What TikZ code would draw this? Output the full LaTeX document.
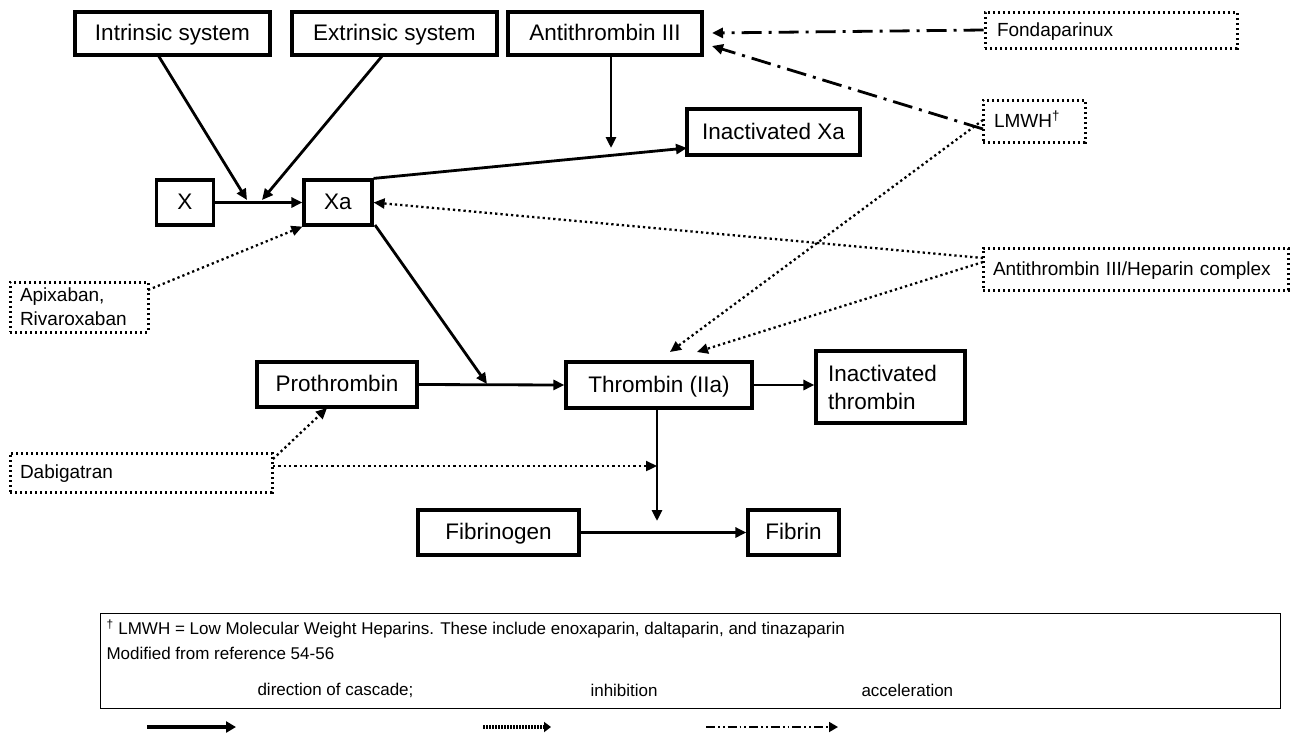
\documentclass[tikz,border=0pt]{standalone}
\usepackage{fontspec}
\setmainfont{Liberation Sans}
\usetikzlibrary{arrows.meta}
\begin{document}
\begin{tikzpicture}[x=1pt,y=-1pt,
  box/.style={draw,line width=3.2pt,inner sep=0pt,font=\fontsize{22.5}{27}\selectfont,anchor=center,text height=16.2pt,text depth=1.6pt},
  dbox/.style={draw,line width=3pt,dash pattern=on 2.4pt off 2.6pt,inner sep=0pt,font=\fontsize{19}{23}\selectfont,anchor=center,text height=13.7pt,text depth=1.4pt},
  flow/.style={line width=2.8pt,-{Triangle[length=11pt,width=10pt]}},
  inhib/.style={line width=2.3pt,dash pattern=on 2.3pt off 3pt,-{Triangle[length=11pt,width=10pt]}},
  accel/.style={line width=2.8pt,dash pattern=on 20pt off 7pt on 3pt off 7pt,-{Triangle[length=11pt,width=10pt]}},
  lt/.style={font=\fontsize{17}{20}\selectfont,anchor=west}
]
\useasboundingbox (0,0) rectangle (1294,732);
% main boxes
\node[box,minimum width=195pt,minimum height=43pt] (intr) at (172.5,33.5) {Intrinsic system};
\node[box,minimum width=205pt,minimum height=43pt] (extr) at (394.5,33.5) {Extrinsic system};
\node[box,minimum width=194pt,minimum height=43pt] (at3) at (605,33.5) {Antithrombin III};
\node[box,minimum width=173pt,minimum height=46pt] (inxa) at (773.5,132) {Inactivated Xa};
\node[box,minimum width=57pt,minimum height=45pt] (x) at (185,202.5) {X};
\node[box,minimum width=68pt,minimum height=45pt] (xa) at (338,202.5) {Xa};
\node[box,minimum width=160pt,minimum height=45pt] (proth) at (337,384.5) {Prothrombin};
\node[box,minimum width=186pt,minimum height=46pt] (thr) at (659,385) {Thrombin (IIa)};
\node[box,minimum width=149pt,minimum height=72pt,text width=125pt,align=left,text height=,text depth=] (inthr) at (890.5,387) {Inactivated\\[1pt]thrombin};
\node[box,minimum width=161pt,minimum height=45pt] (fibg) at (498.5,532.5) {Fibrinogen};
\node[box,minimum width=91pt,minimum height=45pt] (fibr) at (793.5,532.5) {Fibrin};
% dotted boxes
\node[dbox,minimum width=252pt,minimum height=36pt,text width=228pt,align=left] (fonda) at (1111,30) {Fondaparinux};
\node[dbox,minimum width=102pt,minimum height=42pt,text width=80pt,align=left] (lmwh) at (1034,121) {LMWH\textsuperscript{†}};
\node[dbox,minimum width=305pt,minimum height=42pt,text width=285pt,align=left] (athc) at (1135.5,269) {Antithrombin III/Heparin complex};
\node[dbox,minimum width=138pt,minimum height=50pt,text width=118pt,align=left,text height=,text depth=] (apix) at (79,307) {Apixaban,\\[1pt]Rivaroxaban};
\node[dbox,minimum width=262pt,minimum height=39pt,text width=242pt,align=left] (dabi) at (141,472.5) {Dabigatran};
% helper coordinates
\coordinate (j1) at (247,200);
\coordinate (j2) at (262,200);
\coordinate (j3) at (487,384);
\coordinate (j4) at (611,148);
\coordinate (j5) at (657,521);
\coordinate (j6) at (657,466);
\coordinate (i0) at (158,55);
\coordinate (e0) at (383,55);
\coordinate (a0) at (611,55);
\coordinate (ixa) at (687,148);
\coordinate (xb) at (375,225);
\coordinate (t1) at (670,352);
\coordinate (t2) at (697,352);
\coordinate (d0) at (273,459);
\coordinate (d1) at (273,466);
\coordinate (p0) at (327,408);
\coordinate (ap0) at (148,290);
\coordinate (c0) at (983,258);
\coordinate (c1) at (983,262);
\coordinate (lm0) at (983,120);
\coordinate (lm1) at (983,129);
\coordinate (a1) at (712,33);
\coordinate (a2) at (712,46);
% cascade
\draw[flow] (x.east) -- (xa.west);
\draw[flow] (i0) -- (j1);
\draw[flow] (e0) -- (j2);
\draw[flow] (a0) -- (j4);
\draw[flow] (xa.north east) -- (ixa);
\draw[flow] (xb) -- (j3);
\draw[flow] (proth.east) -- (thr.west);
\draw[flow] (thr.east) -- (inthr.west |- thr.east);
\draw[flow] (thr.south -| j5) -- (j5);
\draw[flow] (fibg.east) -- (fibr.west);
% inhibition
\draw[inhib] (ap0) -- (xa.south west);
\draw[inhib] (c0) -- (xa.east);
\draw[inhib] (c1) -- (t2);
\draw[inhib] (lm0) -- (t1);
\draw[inhib] (d0) -- (p0);
\draw[inhib] (d1) -- (j6);
% acceleration
\draw[accel] (fonda.west) -- (a1);
\draw[accel] (lm1) -- (a2);
% legend
\node[draw,line width=1.3pt,minimum width=1180pt,minimum height=95pt,inner sep=0pt,anchor=north west] (leg) at (100,613) {};
\node[lt] (l1) at (103,629) {\textsuperscript{†} LMWH = Low Molecular Weight Heparins. These include enoxaparin, daltaparin, and tinazaparin};
\node[lt] (l2) at (103,653) {Modified from reference 54-56};
\node[lt] (l3) at (254,690) {direction of cascade;};
\node[lt] (l4) at (587,690) {inhibition};
\node[lt] (l5) at (858,690) {acceleration};
\coordinate (s1) at (147,727); \coordinate (s2) at (236,727);
\coordinate (s3) at (483,727); \coordinate (s4) at (551,727);
\coordinate (s5) at (706,727); \coordinate (s6) at (838,727);
\draw[line width=3.8pt,-{Triangle[length=10pt,width=11pt]}] (s1) -- (s2);
\draw[line width=3.4pt,dash pattern=on 1.5pt off 1.5pt,-{Triangle[length=7pt,width=10pt]}] (s3) -- (s4);
\draw[line width=1.8pt,dash pattern=on 9pt off 3pt on 1.8pt off 3pt on 1.8pt off 3pt,-{Triangle[length=9pt,width=10pt]}] (s5) -- (s6);
\end{tikzpicture}
\end{document}
